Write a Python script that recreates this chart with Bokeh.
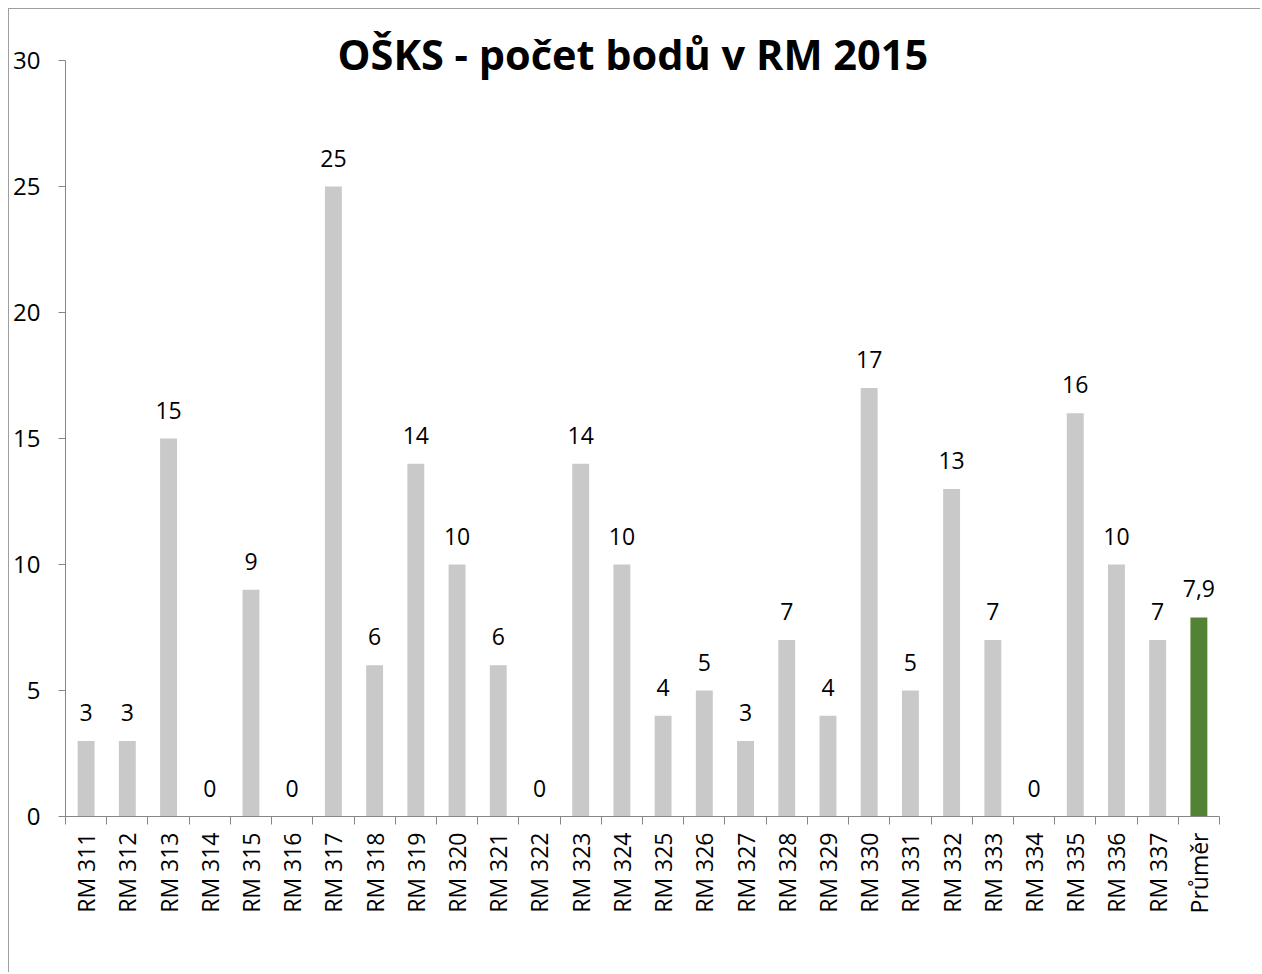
import math
from bokeh.plotting import figure
from bokeh.models import ColumnDataSource, FixedTicker, Range1d, LabelSet
from bokeh.core.properties import value
from bokeh.embed import file_html
from bokeh.resources import INLINE

categories = ["RM 311", "RM 312", "RM 313", "RM 314", "RM 315", "RM 316", "RM 317",
              "RM 318", "RM 319", "RM 320", "RM 321", "RM 322", "RM 323", "RM 324",
              "RM 325", "RM 326", "RM 327", "RM 328", "RM 329", "RM 330", "RM 331",
              "RM 332", "RM 333", "RM 334", "RM 335", "RM 336", "RM 337", "Průměr"]
values = [3, 3, 15, 0, 9, 0, 25, 6, 14, 10, 6, 0, 14, 10, 4, 5, 3, 7, 4, 17, 5, 13, 7, 0,
          16, 10, 7, 7.9]
y_ticks = [0, 5, 10, 15, 20, 25, 30]
title_text = "OŠKS - počet bodů v RM 2015"

GRAY = "#c9c9c9"
GREEN = "#548235"
FONT = "Open Sans"

n = len(categories)
centers = [i + 0.5 for i in range(n)]
bounds = [float(i) for i in range(n + 1)]
colors = [GREEN if c == "Průměr" else GRAY for c in categories]
labels = [(f"{v:.1f}".replace(".", ",") if v != int(v) else str(int(v))) for v in values]

source = ColumnDataSource(dict(x=centers, top=values, color=colors, label=labels))

p = figure(width=1252, height=964, output_backend="svg", toolbar_location=None,
           x_range=Range1d(0, n), y_range=Range1d(0, 30),
           min_border_left=56, min_border_right=42, min_border_top=51,
           min_border_bottom=157)
p.margin = (8, 0, 0, 8)
p.styles = {"border-top": "1px solid #9e9e9e", "border-left": "1px solid #9e9e9e"}
p.outline_line_color = None
p.xgrid.grid_line_color = None
p.ygrid.grid_line_color = None
p.background_fill_color = "white"
p.border_fill_color = "white"

p.title.text = title_text
p.title.align = "left"
p.title.text_font = FONT
p.title.text_font_size = "41.5px"
p.title.text_font_style = "bold"
p.title.text_color = "black"
p.title.standoff = -42
p.title.offset = 272

p.vbar(x="x", top="top", width=0.41, color="color", source=source, line_color=None)

p.add_layout(LabelSet(x="x", y="top", text="label", source=source, text_align="center",
                      text_baseline="bottom", y_offset=20, text_font=value(FONT),
                      text_font_size=value("23px"), text_color="black"))

ax = p.xaxis[0]
ax.ticker = FixedTicker(ticks=centers, minor_ticks=bounds)
ax.major_label_overrides = {c: lab for c, lab in zip(centers, categories)}
ax.major_label_orientation = math.pi / 2
ax.major_tick_line_color = None
ax.major_tick_out = 0
ax.major_tick_in = 0
ax.minor_tick_out = 8
ax.minor_tick_in = 0
ax.minor_tick_line_color = "#868686"
ax.axis_line_color = "#868686"
ax.major_label_standoff = 8
ax.major_label_text_font = FONT
ax.major_label_text_font_size = "23px"
ax.major_label_text_color = "black"

ay = p.yaxis[0]
ay.ticker = FixedTicker(ticks=y_ticks)
ay.major_tick_out = 7
ay.major_tick_in = 0
ay.minor_tick_line_color = None
ay.major_tick_line_color = "#868686"
ay.axis_line_color = "#868686"
ay.major_label_standoff = 18
ay.major_label_text_font = FONT
ay.major_label_text_font_size = "24px"
ay.major_label_text_color = "black"

open("out.html", "w").write(file_html(p, INLINE))
